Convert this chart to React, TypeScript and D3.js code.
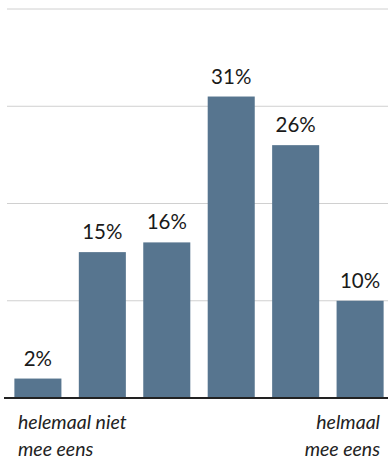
import React from "react";
import * as d3 from "d3";

const categories = ["1", "2", "3", "4", "5", "6"];
const values = [2, 15, 16, 31, 26, 10];
const gridTicks = [10, 20, 30, 40];
const leftLabel = ["helemaal niet", "mee eens"];
const rightLabel = ["helmaal", "mee eens"];

const W = 388;
const H = 461;

export default function App() {
  const x = d3
    .scaleBand<string>()
    .domain(categories)
    .range([6, 392])
    .paddingInner(0.27)
    .paddingOuter(0.13);
  const y = d3.scaleLinear().domain([0, 40]).range([398, 9]);
  const font = "Lato, 'Open Sans', sans-serif";
  return (
    <svg
      width={W}
      height={H}
      style={{ position: "absolute", left: 0, top: 0, background: "#fff" }}
    >
      {gridTicks.map((t) => (
        <line key={t} x1={7} x2={388} y1={y(t)} y2={y(t)} stroke="#d0d0d0" strokeWidth={1} />
      ))}
      {categories.map((c, i) => (
        <g key={c}>
          <rect
            x={x(c)!}
            y={y(values[i])}
            width={x.bandwidth()}
            height={y(0) - y(values[i])}
            fill="#57758f"
          />
          <text
            x={x(c)! + x.bandwidth() / 2}
            y={y(values[i]) - 13}
            textAnchor="middle"
            fontFamily={font}
            fontSize={20.5}
            fill="#1a1a1a"
          >
            {values[i]}%
          </text>
        </g>
      ))}
      <line x1={4} x2={388} y1={y(0)} y2={y(0)} stroke="#222" strokeWidth={2} />
      {leftLabel.map((l, i) => (
        <text key={l} x={18} y={429 + i * 27} fontFamily={font} fontStyle="italic" fontSize={19.5} fill="#222">
          {l}
        </text>
      ))}
      {rightLabel.map((l, i) => (
        <text key={l} x={380} y={429 + i * 27} textAnchor="end" fontFamily={font} fontStyle="italic" fontSize={19.5} fill="#222">
          {l}
        </text>
      ))}
    </svg>
  );
}
